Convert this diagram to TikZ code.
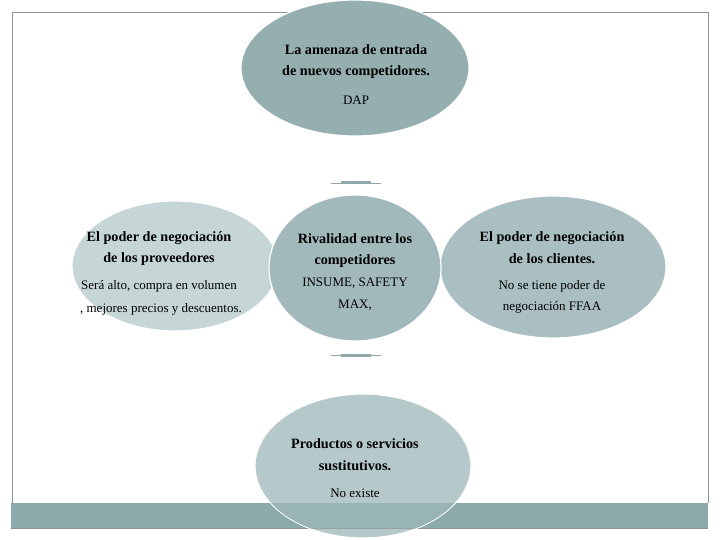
\documentclass[tikz,border=0pt]{standalone}
\usepackage{fontspec}
\setmainfont{Liberation Serif}
\usetikzlibrary{shapes.geometric}
\definecolor{ctop}{HTML}{95AFB0}
\definecolor{cmid}{HTML}{A2B9BB}
\definecolor{cleft}{HTML}{C6D6D6}
\definecolor{cright}{HTML}{A9BFC1}
\definecolor{cbot}{HTML}{B5C9CA}
\definecolor{cbar}{HTML}{8BAAAA}
\definecolor{cframe}{HTML}{8C9394}
\definecolor{cdash}{HTML}{8FA8AA}
\tikzset{
  oval/.style={ellipse, draw=white, line width=1.2pt, inner sep=0pt},
  hd/.style={font=\fontsize{14.2}{16}\selectfont\bfseries, inner sep=0pt},
  tx/.style={font=\fontsize{13}{15}\selectfont, inner sep=0pt},
}
\begin{document}
\begin{tikzpicture}[x=1pt,y=-1pt]
\useasboundingbox (0,0) rectangle (720,540);
\fill[white] (0,0) rectangle (720,540);
% frame
\draw[cframe, line width=1pt] (12,503) -- (12,12.5) -- (708,12.5) -- (708,503);
% small connector marks
\draw[cdash, line width=0.6pt] (331,183) -- (381,183);
\draw[cdash, line width=3pt] (341,183) -- (371,183);
\draw[cdash, line width=0.6pt] (331,355) -- (381,355);
\draw[cdash, line width=3pt] (341,355) -- (371,355);
% ellipses
\node[oval, fill=ctop, minimum width=228pt, minimum height=136pt] (top) at (355,68) {};
\node[oval, fill=cleft, minimum width=206pt, minimum height=130pt] (left) at (175,266) {};
\node[oval, fill=cright, minimum width=226pt, minimum height=142pt] (right) at (553,267) {};
\node[oval, fill=cmid, minimum width=172pt, minimum height=146pt] (mid) at (355,268) {};
\node[oval, fill=cbot, minimum width=216pt, minimum height=144pt] (bot) at (363,466) {};
% bottom bar
\fill[cbar] (11,503) rectangle (708,528);
\draw[cframe, line width=0.6pt] (11,528) -- (708,528);
\begin{scope}
\clip (11,503) rectangle (708,528);
\fill[white, opacity=0.12] (bot.center) ellipse (108pt and 72pt);
\draw[white, line width=0.8pt] (bot.center) ellipse (108pt and 72pt);
\end{scope}
% texts
\node[hd] (t1) at (356,50) {La amenaza de entrada};
\node[hd] (t2) at (356,72) {de nuevos competidores.};
\node[tx] (t3) at (356,100) {DAP};
\node[hd] (m1) at (355,239) {Rivalidad entre los};
\node[hd] (m2) at (355,261) {competidores};
\node[tx] (m3) at (355,283) {INSUME, SAFETY};
\node[tx] (m4) at (355,305) {MAX,};
\node[hd] (l1) at (159,238) {El poder de negociación};
\node[hd] (l2) at (159,259) {de los proveedores};
\node[tx] (l3) at (159,286) {Será alto, compra en volumen};
\node[tx] (l4) at (161,309) {, mejores precios y descuentos.};
\node[hd] (r1) at (552,238) {El poder de negociación};
\node[hd] (r2) at (552,259) {de los clientes.};
\node[tx] (r3) at (552,286) {No se tiene poder de};
\node[tx] (r4) at (552,307) {negociación FFAA};
\node[hd] (b1) at (355,444) {Productos o servicios};
\node[hd] (b2) at (355,466) {sustitutivos.};
\node[tx] (b3) at (355,493) {No existe};
\end{tikzpicture}
\end{document}
